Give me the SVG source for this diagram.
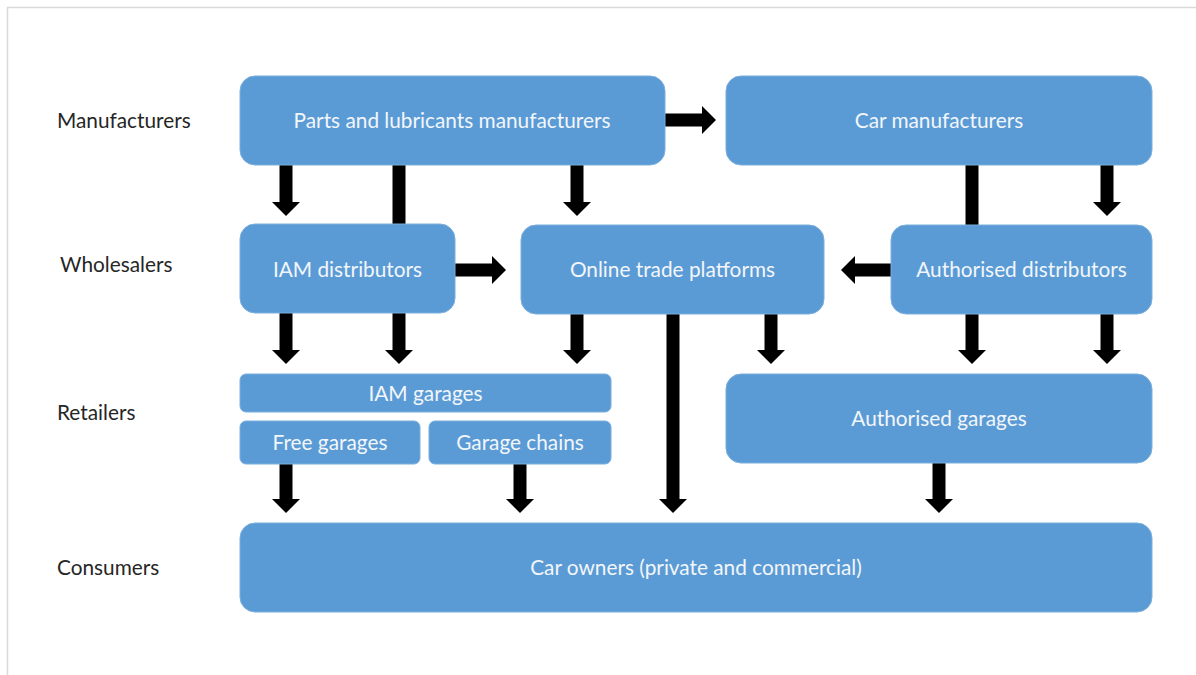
<svg xmlns="http://www.w3.org/2000/svg" width="1196" height="675" viewBox="0 0 1196 675">
  <style>
    .box { fill: #5B9BD5; stroke: #7AAEDD; stroke-width: 1; }
    .nt { font-family: Lato, "Open Sans", "Liberation Sans", sans-serif; font-size: 20.8px; fill: #F2F6FB; text-anchor: middle; dominant-baseline: central; }
    .lbl { font-family: Lato, "Open Sans", "Liberation Sans", sans-serif; font-size: 20.8px; fill: #262626; dominant-baseline: central; }
    .conn { stroke: #000; stroke-width: 13; fill: none; }
    .arr { marker-end: url(#ah); }
  </style>
  <defs>
    <marker id="ah" markerUnits="userSpaceOnUse" markerWidth="14" markerHeight="28" refX="0" refY="14" orient="auto" overflow="visible">
      <path d="M0,0 L14,14 L0,28 Z" fill="#000"/>
    </marker>
  </defs>
  <rect width="1196" height="675" fill="#fff"/>
  <path d="M7.5,675 V7.5 H1196" fill="none" stroke="#D9D9D9" stroke-width="1.5"/>

  <g id="labels">
    <text class="lbl" x="57" y="119">Manufacturers</text>
    <text class="lbl" x="60" y="263">Wholesalers</text>
    <text class="lbl" x="57" y="411">Retailers</text>
    <text class="lbl" x="57" y="566">Consumers</text>
  </g>

  <g id="connectors">
    <line class="conn arr" x1="286" y1="165" x2="286" y2="202"/>
    <line class="conn" x1="399" y1="165" x2="399" y2="225"/>
    <line class="conn arr" x1="577" y1="165" x2="577" y2="202"/>
    <line class="conn arr" x1="665" y1="120" x2="702" y2="120"/>
    <line class="conn" x1="972" y1="165" x2="972" y2="226"/>
    <line class="conn arr" x1="1107" y1="165" x2="1107" y2="202"/>
    <line class="conn arr" x1="455" y1="270" x2="492" y2="270"/>
    <line class="conn arr" x1="891" y1="270" x2="855" y2="270"/>
    <line class="conn arr" x1="286" y1="313" x2="286" y2="350"/>
    <line class="conn arr" x1="399" y1="313" x2="399" y2="350"/>
    <line class="conn arr" x1="577" y1="314" x2="577" y2="350"/>
    <line class="conn arr" x1="673" y1="314" x2="673" y2="499"/>
    <line class="conn arr" x1="771" y1="314" x2="771" y2="350"/>
    <line class="conn arr" x1="972" y1="314" x2="972" y2="350"/>
    <line class="conn arr" x1="1107" y1="314" x2="1107" y2="350"/>
    <line class="conn arr" x1="286" y1="464" x2="286" y2="499"/>
    <line class="conn arr" x1="520" y1="464" x2="520" y2="499"/>
    <line class="conn arr" x1="939" y1="463" x2="939" y2="499"/>
  </g>

  <g id="parts-manufacturers">
    <rect class="box" x="240" y="76" width="425" height="89" rx="15"/>
    <text class="nt" x="452" y="119">Parts and lubricants manufacturers</text>
  </g>
  <g id="car-manufacturers">
    <rect class="box" x="726" y="76" width="426" height="89" rx="15"/>
    <text class="nt" x="939" y="119">Car manufacturers</text>
  </g>
  <g id="iam-distributors">
    <rect class="box" x="240" y="224" width="215" height="89" rx="15"/>
    <text class="nt" x="347.5" y="268">IAM distributors</text>
  </g>
  <g id="online-trade-platforms">
    <rect class="box" x="521" y="225" width="303" height="89" rx="15"/>
    <text class="nt" x="672.5" y="268.5">Online trade platforms</text>
  </g>
  <g id="authorised-distributors">
    <rect class="box" x="891" y="225" width="261" height="89" rx="15"/>
    <text class="nt" x="1021.5" y="268.5">Authorised distributors</text>
  </g>
  <g id="iam-garages">
    <rect class="box" x="240" y="374" width="371" height="38" rx="6"/>
    <text class="nt" x="425.5" y="392">IAM garages</text>
  </g>
  <g id="free-garages">
    <rect class="box" x="240" y="421" width="180" height="43" rx="6"/>
    <text class="nt" x="330" y="441">Free garages</text>
  </g>
  <g id="garage-chains">
    <rect class="box" x="429" y="421" width="182" height="43" rx="6"/>
    <text class="nt" x="520" y="441">Garage chains</text>
  </g>
  <g id="authorised-garages">
    <rect class="box" x="726" y="374" width="426" height="89" rx="15"/>
    <text class="nt" x="939" y="417.5">Authorised garages</text>
  </g>
  <g id="car-owners">
    <rect class="box" x="240" y="523" width="912" height="89" rx="15"/>
    <text class="nt" x="696" y="566.5">Car owners (private and commercial)</text>
  </g>
</svg>
